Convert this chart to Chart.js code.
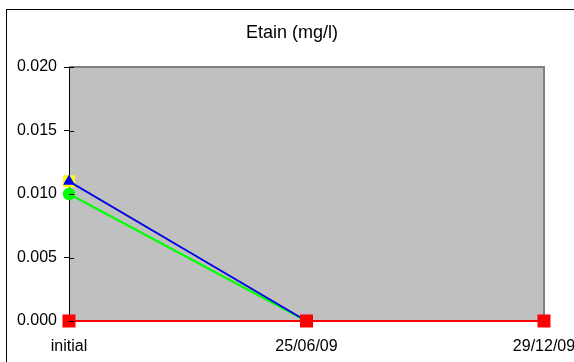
<!DOCTYPE html>
<html>
<head>
<meta charset="utf-8">
<script src="https://cdn.jsdelivr.net/npm/chart.js@4"></script>
<style>
  html, body { margin: 0; padding: 0; background: #fff; }
  #wrap { width: 574px; height: 362px; }
</style>
</head>
<body>
<div id="wrap"><canvas id="etainChart" width="574" height="362"></canvas></div>
<script>
// Données
const titre = 'Etain (mg/l)';
const dates = ['initial', '25/06/09', '29/12/09'];
const serieJaune = [0.011, 0, null];
const serieBleue = [0.011, 0, null];
const serieVerte = [0.010, 0, null];
const serieRouge = [0, 0, 0];
const yTicks = [0, 0.005, 0.010, 0.015, 0.020];

// Cadre extérieur, fond gris de la zone de tracé, titre et graduations intérieures
const fondGraphique = {
    id: 'fondGraphique',
    beforeDraw(chart) {
        const { ctx, chartArea: a } = chart;
        ctx.save();
        ctx.fillStyle = '#fff';
        ctx.fillRect(0, 0, chart.width, chart.height);
        ctx.strokeStyle = '#000';
        ctx.lineWidth = 1;
        ctx.strokeRect(6.5, 9.5, 700, 500);
        ctx.fillStyle = '#c0c0c0';
        ctx.fillRect(a.left, a.top, a.right - a.left, a.bottom - a.top);
        ctx.strokeStyle = '#808080';
        ctx.lineWidth = 2;
        ctx.beginPath();
        ctx.moveTo(a.left, a.top);
        ctx.lineTo(a.right, a.top);
        ctx.lineTo(a.right, a.bottom);
        ctx.stroke();

        // titre
        ctx.fillStyle = '#000';
        ctx.font = '18px "Liberation Sans"';
        ctx.textAlign = 'center';
        ctx.textBaseline = 'middle';
        ctx.fillText(titre, 292, 33);
        ctx.restore();
    },
    afterDatasetsDraw(chart) {
        // petites graduations qui traversent l'axe vers l'intérieur
        const { ctx, chartArea: a, scales } = chart;
        ctx.save();
        ctx.strokeStyle = '#000';
        ctx.lineWidth = 1;
        ctx.beginPath();
        scales.y.ticks.forEach(t => {
            const y = Math.round(scales.y.getPixelForValue(t.value)) + 0.5;
            ctx.moveTo(a.left, y);
            ctx.lineTo(a.left + 5, y);
        });
        ctx.stroke();
        ctx.restore();
    }
};

function serie(label, data, color, style, radius, order) {
    return {
        label: label,
        data: data,
        borderColor: color,
        backgroundColor: color,
        pointBackgroundColor: color,
        pointBorderColor: color,
        pointBorderWidth: 0,
        pointStyle: style,
        pointRadius: radius,
        borderWidth: 2,
        tension: 0,
        spanGaps: false,
        clip: false,
        order: order
    };
}

const police = { family: 'Liberation Sans', size: 16 };

new Chart(document.getElementById('etainChart'), {
    type: 'line',
    data: {
        labels: dates,
        datasets: [
            serie('Rouge', serieRouge, '#ff0000', 'rect', 9.2, 0),
            serie('Bleue', serieBleue, '#0000ff', 'triangle', 6.8, 1),
            serie('Verte', serieVerte, '#00ff00', 'circle', 6.2, 2),
            serie('Jaune', serieJaune, '#ffff00', 'rect', 8.5, 3)
        ]
    },
    options: {
        responsive: false,
        animation: false,
        layout: { padding: { left: 0, right: 30, top: 67, bottom: 0 } },
        plugins: {
            legend: { display: false },
            tooltip: { enabled: false },
            title: { display: false }
        },
        scales: {
            x: {
                type: 'category',
                offset: false,
                grid: { display: false, drawTicks: false },
                border: { display: true, color: '#000', width: 1 },
                ticks: {
                    color: '#000',
                    padding: 16,
                    maxRotation: 0,
                    autoSkip: false,
                    font: police
                },
                afterFit(scale) {
                    scale.height = 41;
                    scale.paddingLeft = 0;
                    scale.paddingRight = 0;
                }
            },
            y: {
                min: 0,
                max: 0.02,
                afterBuildTicks(scale) { scale.ticks = yTicks.map(v => ({ value: v })); },
                grid: {
                    drawOnChartArea: false,
                    drawTicks: true,
                    tickLength: 5,
                    color: '#000'
                },
                border: { display: true, color: '#000', width: 1 },
                ticks: {
                    color: '#000',
                    padding: 7,
                    font: police,
                    callback: v => v.toFixed(3)
                },
                afterFit(scale) {
                    scale.width = 69;
                    scale.paddingTop = 0;
                    scale.paddingBottom = 0;
                }
            }
        }
    },
    plugins: [fondGraphique]
});
</script>
</body>
</html>
